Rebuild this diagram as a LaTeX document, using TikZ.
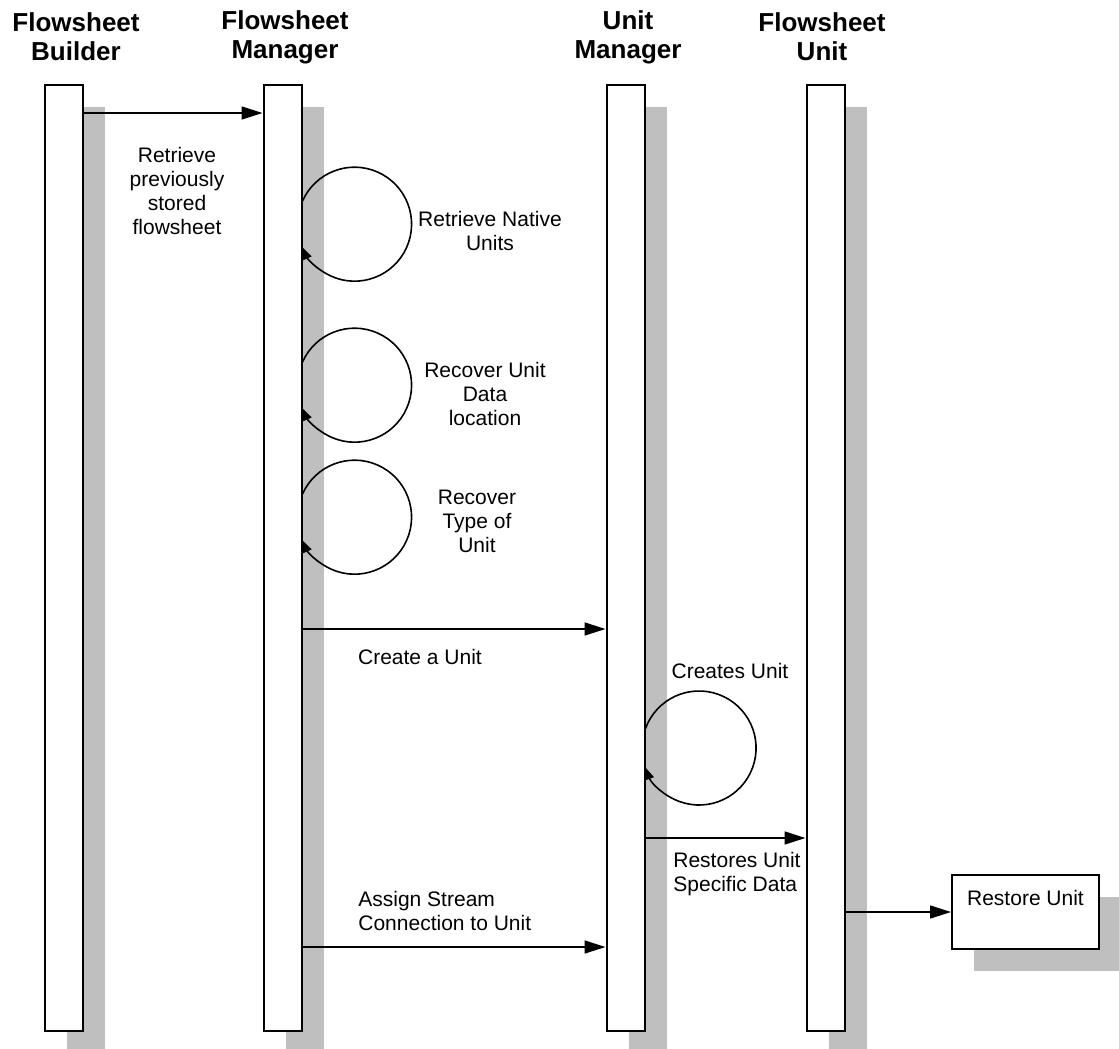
\documentclass[tikz,border=0pt]{standalone}
\usepackage{fontspec}
\setmainfont{Liberation Sans}
\usetikzlibrary{arrows.meta,shadows,positioning}

\begin{document}
\begin{tikzpicture}[x=0.5pt,y=-0.5pt]
    \tikzstyle{every node}+=[inner sep=0pt]
    \tikzstyle{lifeline}=[draw=black, line width=1pt, fill=white, minimum width=19pt, minimum height=473pt, drop shadow={shadow xshift=11pt, shadow yshift=-11pt, fill=black!25, opacity=1}]
    \tikzstyle{actor}=[align=center, font=\fontsize{13}{14.5}\selectfont\bfseries]
    \tikzstyle{msgtext}=[align=center, font=\fontsize{10.5}{12}\selectfont]
    \tikzstyle{msg}=[black, line width=0.8pt, -{Triangle[length=10.5pt, width=6.5pt]}]
    \tikzstyle{selfmsg}=[black, line width=0.8pt, -{Triangle[length=6pt, width=4.5pt]}]
    \useasboundingbox (0,0) rectangle (1119,1049);
        \node[actor] (t_fb) at (76,37) {Flowsheet\\Builder};
        \node[actor] (t_fm) at (285,37) {Flowsheet\\Manager};
        \node[actor] (t_um) at (628,37) {Unit\\Manager};
        \node[actor] (t_fu) at (822,37) {Flowsheet\\Unit};
        \node[lifeline] (fb) at (64,558) {};
        \node[lifeline] (fm) at (282.5,558) {};
        \node[lifeline] (um) at (625.5,558) {};
        \node[lifeline] (fu) at (825.5,558) {};
        \node[lifeline, minimum width=73.5pt, minimum height=37pt] (ru) at (1025.5,912) {};
        \node[msgtext, below=8pt of ru.north] (t_ru) {Restore Unit};
        \coordinate (y_fetch) at (0,113);
        \coordinate (y_native) at (0,201);
        \coordinate (y_data) at (0,362);
        \coordinate (y_type) at (0,494);
        \coordinate (y_create) at (0,629);
        \coordinate (y_creates) at (0,728.5);
        \coordinate (y_restores) at (0,838);
        \coordinate (y_assign) at (0,947);
        \draw[msg] (fb.east |- y_fetch) -- (fm.west |- y_fetch);
        \node[msgtext] (t_fetch) at (177,191) {Retrieve\\previously\\stored\\flowsheet};
        \draw[selfmsg] (fm.east |- y_native) arc[start angle=204, end angle=516, radius=57];
        \node[msgtext] (t_native) at (490,231) {Retrieve Native\\Units};
        \draw[selfmsg] (fm.east |- y_data) arc[start angle=204, end angle=516, radius=57];
        \node[msgtext] (t_data) at (485,394) {Recover Unit\\Data\\location};
        \draw[selfmsg] (fm.east |- y_type) arc[start angle=204, end angle=516, radius=57];
        \node[msgtext] (t_type) at (477,521) {Recover\\Type of\\Unit};
        \draw[msg] (fm.east |- y_create) -- (um.west |- y_create);
        \node[msgtext] (t_create) at (420,657) {Create a Unit};
        \draw[selfmsg] (um.east |- y_creates) arc[start angle=200, end angle=520, radius=57];
        \node[msgtext] (t_creates) at (730,671) {Creates Unit};
        \draw[msg] (um.east |- y_restores) -- (fu.west |- y_restores);
        \node[msgtext, align=left, anchor=west] (t_restores) at (673,874.5) {Restores Unit\\Specific Data};
        \draw[msg] (fm.east |- y_assign) -- (um.west |- y_assign);
        \node[msgtext, align=left, anchor=west] (t_assign) at (358,911) {Assign Stream\\Connection to Unit};
        \draw[msg] (fu.east |- ru.west) -- (ru.west);
    \end{tikzpicture}
\end{document}
